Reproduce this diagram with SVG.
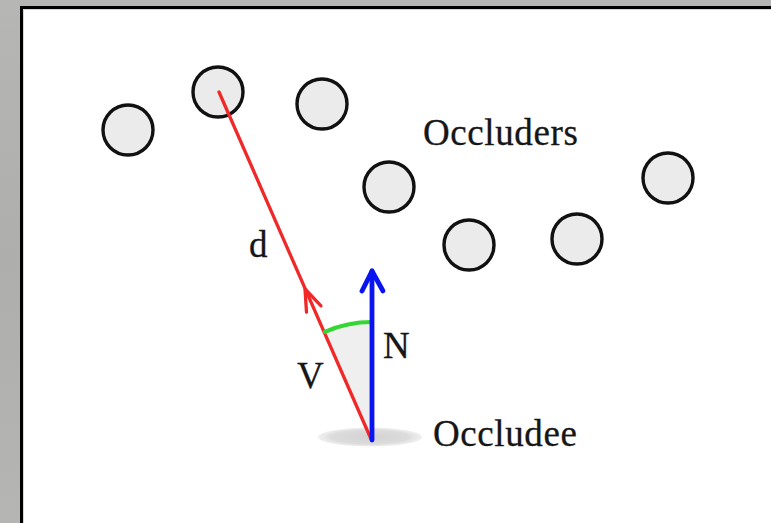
<svg xmlns="http://www.w3.org/2000/svg" width="771" height="523" viewBox="0 0 771 523">
  <defs>
    <linearGradient id="bg" x1="0" y1="0" x2="0" y2="1">
      <stop offset="0" stop-color="#b6b6b4"/>
      <stop offset="0.5" stop-color="#aeaeac"/>
      <stop offset="1" stop-color="#b5b5b3"/>
    </linearGradient>
    <radialGradient id="shadow" cx="0.5" cy="0.5" r="0.5">
      <stop offset="0" stop-color="#d2d2d2"/>
      <stop offset="0.75" stop-color="#dcdcdc"/>
      <stop offset="1" stop-color="#e6e6e6" stop-opacity="0.6"/>
    </radialGradient>
    <style>
      .occ { fill: #ebebeb; stroke: #111111; stroke-width: 3.4; }
      .lbl { font-family: "Liberation Serif", "Times New Roman", serif; font-size: 37px; fill: #161616; stroke: #161616; stroke-width: 0.3; }
      .wide { letter-spacing: 0.6px; }
      .red { stroke: #f02828; stroke-width: 3.3; fill: none; stroke-linecap: round; stroke-linejoin: round; }
      .blue { stroke: #0a14f0; stroke-width: 4.8; fill: none; stroke-linecap: round; stroke-linejoin: round; }
      .green { stroke: #33d633; stroke-width: 4; fill: none; stroke-linecap: round; }
    </style>
  </defs>

  <!-- frame -->
  <rect x="0" y="0" width="771" height="523" fill="url(#bg)"/>
  <rect x="20" y="6" width="751" height="517" fill="#000000"/>
  <rect x="23" y="9" width="748" height="514" fill="#d8d8d8"/>
  <rect x="24" y="10" width="747" height="513" fill="#ffffff"/>

  <!-- occludee shadow and sector -->
  <g id="occludee">
    <ellipse cx="370" cy="437" rx="52" ry="9.5" fill="url(#shadow)"/>
    <path d="M 372 440 L 324.8 331.8 A 118 118 0 0 1 372 322 Z" fill="#efefef"/>
  </g>

  <!-- occluders -->
  <g id="occluder-1"><circle class="occ" cx="128" cy="130" r="25"/></g>
  <g id="occluder-2"><circle class="occ" cx="218" cy="92" r="25"/></g>
  <g id="occluder-3"><circle class="occ" cx="322" cy="104" r="25"/></g>
  <g id="occluder-4"><circle class="occ" cx="389" cy="187" r="25"/></g>
  <g id="occluder-5"><circle class="occ" cx="469" cy="245" r="25"/></g>
  <g id="occluder-6"><circle class="occ" cx="577" cy="239" r="25"/></g>
  <g id="occluder-7"><circle class="occ" cx="668" cy="178" r="25"/></g>

  <!-- connectors -->
  <g id="connectors">
    <line class="red" x1="219" y1="92" x2="371" y2="439"/>
    <polyline class="red" points="306.5,312.2 305,289 321,305.8"/>
    <path class="green" d="M 324.8 331.8 A 118 118 0 0 1 372 322"/>
    <line class="blue" x1="372" y1="440" x2="372" y2="271"/>
    <polyline class="blue" points="362,291 372,271 383,291"/>
  </g>

  <!-- labels -->
  <g id="labels">
    <text class="lbl wide" x="423" y="145">Occluders</text>
    <text class="lbl" x="249" y="257">d</text>
    <text class="lbl" x="297" y="388">V</text>
    <text class="lbl" x="383" y="358">N</text>
    <text class="lbl wide" x="433" y="446">Occludee</text>
  </g>
</svg>
